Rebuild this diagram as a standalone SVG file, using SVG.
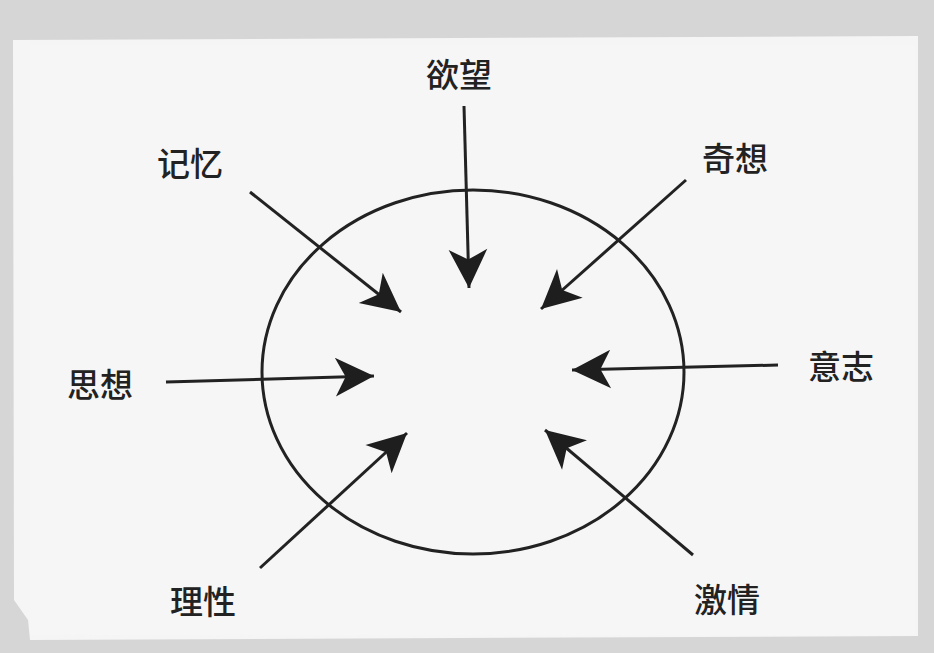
<svg xmlns="http://www.w3.org/2000/svg" width="934" height="653" viewBox="0 0 934 653">
<defs>
<marker id="ah" markerUnits="userSpaceOnUse" markerWidth="50" markerHeight="50" viewBox="-40 -20 44 40" refX="0" refY="0" orient="auto">
<path d="M0,0 L-34,-17 L-25,0 L-34,17 Z" fill="#1e1e1e"/>
</marker>
</defs>
<style>
.lbl{font-family:"Noto Sans CJK SC","Noto Sans",sans-serif;font-size:33px;font-weight:500;fill:#222;text-anchor:middle;dominant-baseline:central}
.ar{stroke:#222;stroke-width:3;fill:none;marker-end:url(#ah)}
</style>
<rect x="0" y="0" width="934" height="653" fill="#d6d6d6"/>
<polygon points="13,40 918,36 918,636 30,640 28,620 14,600" fill="#f5f5f5"/>
<rect x="30" y="45" width="885" height="590" fill="#f6f6f6"/>
<g id="core">
<ellipse cx="473" cy="372" rx="211" ry="182" fill="none" stroke="#222" stroke-width="3"/>
</g>
<g id="connectors">
<line class="ar" x1="464" y1="106" x2="469" y2="288"/>
<line class="ar" x1="250" y1="192" x2="401" y2="312"/>
<line class="ar" x1="686" y1="180" x2="541" y2="309"/>
<line class="ar" x1="778" y1="365" x2="572" y2="370"/>
<line class="ar" x1="166" y1="382" x2="374" y2="376"/>
<line class="ar" x1="260" y1="568" x2="407" y2="433"/>
<line class="ar" x1="693" y1="555" x2="545" y2="430"/>
</g>
<g id="n-desire"><text class="lbl" x="459" y="73">欲望</text></g>
<g id="n-memory"><text class="lbl" x="190" y="162">记忆</text></g>
<g id="n-fantasy"><text class="lbl" x="735" y="157">奇想</text></g>
<g id="n-will"><text class="lbl" x="841" y="365">意志</text></g>
<g id="n-thought"><text class="lbl" x="100" y="383">思想</text></g>
<g id="n-reason"><text class="lbl" x="203" y="600">理性</text></g>
<g id="n-passion"><text class="lbl" x="727" y="598">激情</text></g>
</svg>
